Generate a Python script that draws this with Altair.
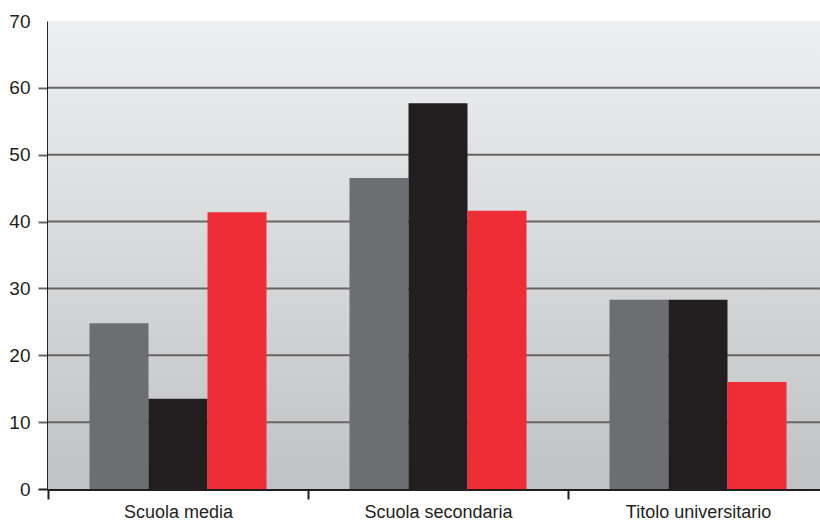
import altair as alt
import pandas as pd

categories = ["Scuola media", "Scuola secondaria", "Titolo universitario"]
series = ["Serie 1", "Serie 2", "Serie 3"]
serie1 = [24.8, 46.5, 28.3]
serie2 = [13.5, 57.7, 28.3]
serie3 = [41.4, 41.6, 16.0]
colors = ["#6d6e71", "#231f20", "#ee2d36"]
y_ticks = [0, 10, 20, 30, 40, 50, 60, 70]
grid_values = [10, 20, 30, 40, 50, 60]

rows = []
for s, vals in zip(series, [serie1, serie2, serie3]):
    for c, v in zip(categories, vals):
        rows.append({"categoria": c, "serie": s, "valore": v})
df = pd.DataFrame(rows)

W, H = 772, 468
FONT = "Liberation Sans"

yscale = alt.Scale(domain=[0, 70], nice=False)
y_axis = alt.Axis(
    values=y_ticks, grid=False, labelFontSize=19, labelFont=FONT,
    labelColor="#231f20", domainColor="#231f20", domainWidth=3,
    tickColor={"condition": {"test": "datum.value == 0", "value": "#231f20"}, "value": "#666666"},
    tickOpacity={"condition": {"test": "datum.value == 70", "value": 0}, "value": 1},
    tickWidth=2, tickSize=10, labelPadding=8,
)

bg = alt.Chart(alt.Data(values=[{}])).mark_rect(
    color=alt.Gradient(
        gradient="linear",
        stops=[alt.GradientStop(color="#eeeff1", offset=0),
               alt.GradientStop(color="#c1c2c4", offset=1)],
        x1=0, x2=0, y1=0, y2=1,
    )
).encode(x=alt.value(0), x2=alt.value(W), y=alt.value(0), y2=alt.value(H))

grid = alt.Chart(pd.DataFrame({"valore": grid_values})).mark_rule(
    color="#666666", strokeWidth=2
).encode(
    y=alt.Y("valore:Q", scale=yscale, axis=y_axis, title=None),
    x=alt.value(0), x2=alt.value(W),
)

bars = alt.Chart(df).mark_bar().encode(
    x=alt.X(
        "categoria:N", sort=categories, title=None,
        scale=alt.Scale(paddingInner=0, paddingOuter=0, range=[0, 780]),
        axis=alt.Axis(
            labelAngle=0, tickBand="extent", labelFontSize=18, labelFont=FONT,
            labelColor="#231f20", domainColor="#231f20", domainWidth=3,
            tickColor="#231f20", tickWidth=2, tickSize=10, labelPadding=4,
        ),
    ),
    xOffset=alt.XOffset("serie:N", sort=series,
                        scale=alt.Scale(paddingInner=0, paddingOuter=0.703)),
    y=alt.Y("valore:Q", scale=yscale, title=None, axis=y_axis),
    color=alt.Color("serie:N", sort=series,
                    scale=alt.Scale(domain=series, range=colors), legend=None),
)

chart = alt.layer(bg, grid, bars).properties(
    width=W, height=H,
    autosize=alt.AutoSizeParams(type="none"),
    padding={"left": 48, "top": 21, "right": 0, "bottom": 31},
    background="white",
).configure_view(strokeWidth=0)

chart.save("out.html", embed_options={"renderer": "svg", "actions": False})
